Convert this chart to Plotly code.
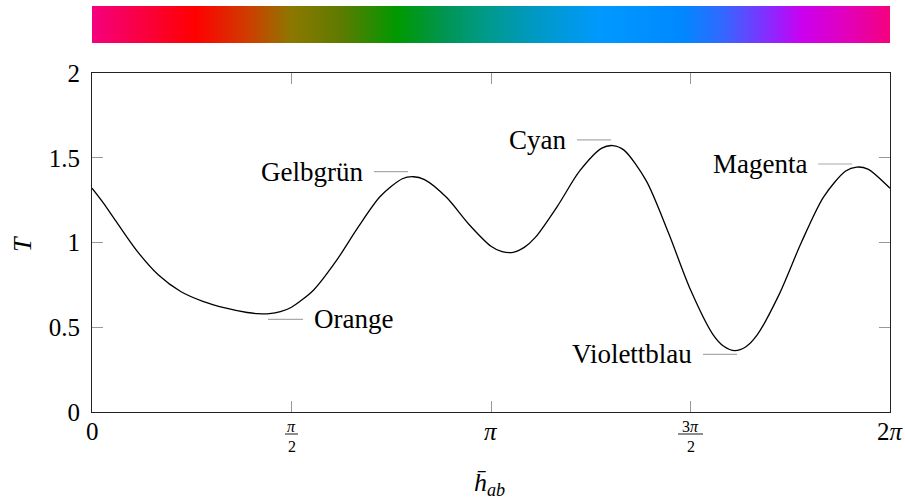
import numpy as np
import plotly.graph_objects as go

# ---------------- data ----------------
hue_deg = [0, 5, 10, 20, 30, 40, 50, 60, 70, 75, 80, 85, 90, 100, 110, 120, 130, 140, 145,
           150, 160, 170, 180, 185, 190, 195, 200, 210, 220, 230, 235, 240, 250, 260, 270,
           280, 285, 290, 295, 300, 310, 320, 330, 340, 345, 350, 360]
T_vals = [1.320, 1.235, 1.141, 0.955, 0.808, 0.711, 0.653, 0.614, 0.587, 0.580, 0.580,
          0.592, 0.618, 0.720, 0.888, 1.089, 1.271, 1.376, 1.388, 1.371, 1.265, 1.108,
          0.978, 0.946, 0.942, 0.971, 1.030, 1.215, 1.422, 1.557, 1.572, 1.545, 1.365,
          1.059, 0.721, 0.460, 0.388, 0.362, 0.385, 0.453, 0.694, 1.000, 1.268, 1.422,
          1.445, 1.433, 1.320]

x_tick_vals = [0, np.pi / 2, np.pi, 3 * np.pi / 2, 2 * np.pi]
x_tick_num = ["0", "<i>π</i>", "<i>π</i>", "3<i>π</i>", "2<i>π</i>"]
x_tick_den = ["", "2", "", "2", ""]
y_tick_vals = [0, 0.5, 1, 1.5, 2]
y_tick_text = ["0", "0.5", "1", "1.5", "2"]

pin_labels = ["Gelbgrün", "Cyan", "Magenta", "Orange", "Violettblau"]
pin_x0 = [2.220, 3.819, 5.717, 1.386, 4.811]
pin_x1 = [2.488, 4.087, 5.984, 1.661, 5.079]
pin_y = [1.418, 1.605, 1.463, 0.547, 0.340]
pin_side = ["left", "left", "left", "right", "left"]

hue_bar_pos = [0.0, 0.129, 0.198, 0.249, 0.31, 0.382, 0.44, 0.488, 0.55, 0.637, 0.74,
               0.79, 0.825, 0.855, 0.89, 0.94, 1.0]
hue_bar_col = ["#f5007d", "#ff0000", "#cc4000", "#8c7800", "#5f7a00", "#009900", "#009550",
               "#009a85", "#0099c0", "#0099ff", "#0088ff", "#3368ff", "#6644ff", "#9422ff",
               "#cc00ee", "#e000c0", "#f5007d"]

# ---------------- figure ----------------
FONT = "Liberation Serif"
W, H = 905, 502
ML, MR, MT, MB = 92, 15, 6, 90
plot_h = H - MT - MB  # 406
main_top = (412 - 73) / plot_h

fig = go.Figure()

x_rad = np.radians(hue_deg)
fig.add_trace(go.Scatter(x=x_rad, y=T_vals, mode="lines",
                         line=dict(color="black", width=1.3, shape="spline", smoothing=0.8),
                         hoverinfo="skip", showlegend=False))

# hue colour bar
grad = np.linspace(0, 1, 400)
fig.add_trace(go.Heatmap(z=[grad], x=grad, y=[0], colorscale=list(zip(hue_bar_pos, hue_bar_col)),
                         showscale=False, zsmooth="best", xaxis="x2", yaxis="y2",
                         hoverinfo="skip"))

axis_common = dict(showline=True, mirror="allticks", linecolor="#222", linewidth=1.2,
                   ticks="inside", ticklen=11, tickcolor="#999", tickwidth=1,
                   showgrid=False, zeroline=False, automargin=False)

fig.update_layout(
    width=W, height=H, autosize=False,
    margin=dict(l=ML, r=MR, t=MT, b=MB, autoexpand=False),
    paper_bgcolor="white", plot_bgcolor="white",
    font=dict(family=FONT, size=25, color="black"),
    xaxis=dict(range=[0, 2 * np.pi], domain=[0, 1], tickvals=x_tick_vals,
               showticklabels=False, **axis_common),
    yaxis=dict(range=[0, 2], domain=[0, main_top], tickvals=y_tick_vals,
               ticktext=y_tick_text, tickfont=dict(size=25, family=FONT),
               ticklabelstandoff=6, **axis_common),
    xaxis2=dict(domain=[0, 1], range=[0, 1], anchor="y2", visible=False, automargin=False),
    yaxis2=dict(domain=[(412 - 43) / plot_h, 1], range=[-0.5, 0.5], anchor="x2",
                visible=False, automargin=False),
)

annotations = []
shapes = []

def py(pix):
    return (412 - pix) / plot_h

# x tick labels (fractions built from numerator / bar / denominator)
for v, num, den in zip(x_tick_vals, x_tick_num, x_tick_den):
    px = v / (2 * np.pi)
    if den == "":
        annotations.append(dict(x=v, y=py(431), xref="x", yref="paper", text=num,
                                showarrow=False, xanchor="center", yanchor="middle",
                                font=dict(size=25, family=FONT)))
    else:
        annotations.append(dict(x=v, y=py(427), xref="x", yref="paper", text=num,
                                showarrow=False, xanchor="center", yanchor="middle",
                                font=dict(size=16, family=FONT)))
        annotations.append(dict(x=v, y=py(446), xref="x", yref="paper", text=den,
                                showarrow=False, xanchor="center", yanchor="middle",
                                font=dict(size=16, family=FONT)))
        half = (6.5 if num.count("<i>") and not num.startswith("3") else 12.5) / 798
        shapes.append(dict(type="line", xref="paper", yref="paper",
                           x0=px - half, x1=px + half, y0=py(434), y1=py(434),
                           line=dict(color="black", width=0.9)))

# axis titles
annotations.append(dict(x=(22 - ML) / 798, y=py(244), xref="paper", yref="paper",
                        text="<i>T</i>", showarrow=False, textangle=-90,
                        xanchor="center", yanchor="middle", font=dict(size=26, family=FONT)))
annotations.append(dict(x=0.4987, y=py(484), xref="paper", yref="paper",
                        text="<i>h̄</i><sub><i>ab</i></sub>", showarrow=False,
                        xanchor="center", yanchor="middle", font=dict(size=26, family=FONT)))

# pins
for lab, x0, x1, yv, side in zip(pin_labels, pin_x0, pin_x1, pin_y, pin_side):
    shapes.append(dict(type="line", xref="x", yref="y", x0=x0, x1=x1, y0=yv, y1=yv,
                       line=dict(color="#aaaaaa", width=1.2)))
    if side == "left":
        annotations.append(dict(x=x0, y=yv, xref="x", yref="y", text=lab, showarrow=False,
                                xanchor="right", yanchor="middle", xshift=-9,
                                font=dict(size=27, family=FONT)))
    else:
        annotations.append(dict(x=x1, y=yv, xref="x", yref="y", text=lab, showarrow=False,
                                xanchor="left", yanchor="middle", xshift=9,
                                font=dict(size=27, family=FONT)))

fig.update_layout(annotations=annotations, shapes=shapes)
fig.write_html("out.html", config={"displayModeBar": False},
               post_script="document.body.style.margin='0';")
